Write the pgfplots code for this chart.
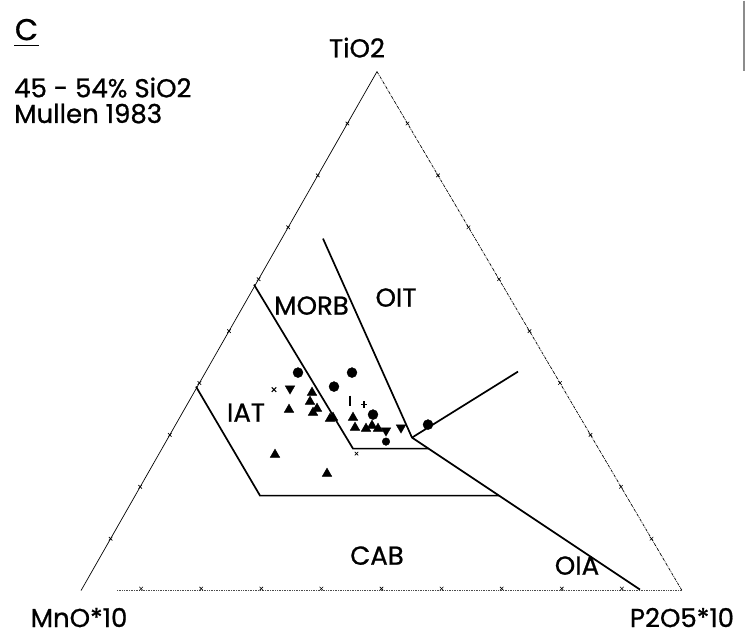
\documentclass[border=0pt]{standalone}
\usepackage{pgfplots}
\pgfplotsset{compat=1.18}
\usepackage{fontspec}
\setmainfont{Poppins}
\newfontfamily\lfont[FakeBold=0.8]{Poppins}
\newcommand{\lf}{\lfont\fontsize{26}{28}\selectfont}
\begin{document}
\begin{tikzpicture}
\begin{axis}[x=1pt, y=1pt, xmin=0, xmax=745, ymin=0, ymax=636, y dir=reverse,
  hide axis, clip=false, anchor=south west, at={(0,0)}]
\path (axis cs:0,0) rectangle (axis cs:745,636);
% triangle edges
\addplot[black, line width=0.7pt, mark=none] coordinates {(81,590) (377,71)};
\addplot[black, line width=0.7pt, densely dash dot, mark=none] coordinates {(377,71) (682,590)};
\addplot[black!70, line width=0.7pt, densely dotted, mark=none] coordinates {(117,590) (682,590)};
% edge ticks
\addplot[only marks, mark=x, mark size=2.5pt, black, mark options={line width=0.6pt}] coordinates {
(110.6,538.1) (140.2,486.2) (169.8,434.3) (199.4,382.4) (229.0,330.5) (258.6,278.6) (288.2,226.7) (317.8,174.8) (347.4,122.9)
(407.5,122.9) (438.0,174.8) (468.5,226.7) (499.0,278.6) (529.5,330.5) (560.0,382.4) (590.5,434.3) (621.0,486.2) (651.5,538.1)
(141.1,588) (201.2,588) (261.3,588) (321.4,588) (381.5,588) (441.6,588) (501.7,588) (561.8,588) (621.9,588)
(356.5,453)};
% field boundaries
\addplot[black, line width=1.7pt, mark=none] coordinates {(196,386) (260,495) (499,495)};
\addplot[black, line width=1.7pt, mark=none] coordinates {(254,284) (353,448) (428.5,448)};
\addplot[black, line width=1.7pt, mark=none] coordinates {(323,238) (412,437) (640,589)};
\addplot[black, line width=1.7pt, mark=none] coordinates {(412,437) (518,371)};
% scan border
\addplot[black!45, line width=1.2pt, mark=none] coordinates {(744,0) (744,70)};
% data: circles
\addplot[only marks, mark=*, mark size=5pt, black] coordinates {
(298,372) (352,372) (334,386) (373,414) (428,424)};
\addplot[only marks, mark=*, mark size=3.8pt, black] coordinates {(386,441)};
% triangles up
\addplot[only marks, mark=triangle*, mark size=5.5pt, black] coordinates {
(312,392) (310,401) (317,408) (313,412) (289,409) (333,417) (330,418) (353,417) (355,427)
(366,428) (372,425) (378,428) (275,454) (327,473)};
% triangles down
\addplot[only marks, mark=triangle*, mark size=5.5pt, black, mark options={rotate=180}] coordinates {
(290,388) (401,427) (386,430)};
% x and + and |
\addplot[only marks, mark=x, mark size=3.2pt, black, mark options={line width=1.1pt}] coordinates {(274,389)};
\addplot[only marks, mark=+, mark size=3.2pt, black, mark options={line width=1.1pt}] coordinates {(364,404)};
\addplot[only marks, mark=|, mark size=5pt, black, mark options={line width=1.1pt}] coordinates {(350,400)};
% labels
\node[inner sep=0pt, font=\lfont\fontsize{30}{32}\selectfont] at (axis cs:26.5,29) {C};
\draw[black, line width=1.6pt] (axis cs:14,45) -- (axis cs:39,45);
\node[anchor=west, inner sep=0pt, font=\lf] at (axis cs:14,87) {45 - 54\% SiO2};
\node[anchor=west, inner sep=0pt, font=\lf] at (axis cs:14,113) {Mullen 1983};
\node[inner sep=0pt, font=\lf] at (axis cs:357,47) {TiO2};
\node[inner sep=0pt, font=\lf] at (axis cs:311.5,305) {MORB};
\node[inner sep=0pt, font=\lf] at (axis cs:396,297) {OIT};
\node[inner sep=0pt, font=\lf] at (axis cs:246,412) {IAT};
\node[inner sep=0pt, font=\lf] at (axis cs:377,555) {CAB};
\node[inner sep=0pt, font=\lf] at (axis cs:577,565) {OIA};
\node[inner sep=0pt, font=\lf] at (axis cs:79,617) {MnO*10};
\node[inner sep=0pt, font=\lf] at (axis cs:682,617) {P2O5*10};
\end{axis}
\end{tikzpicture}
\end{document}
